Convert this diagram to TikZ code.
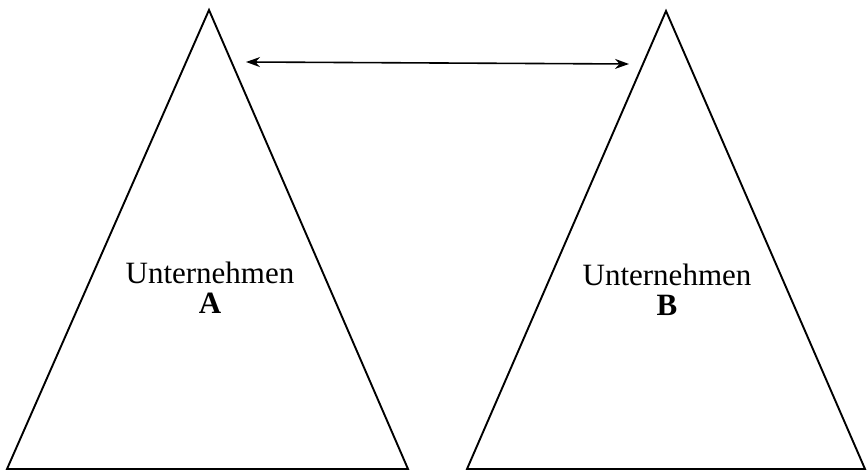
\documentclass[tikz,border=0pt]{standalone}
\usepackage{fontspec}
\setmainfont{Liberation Serif}
\usetikzlibrary{arrows.meta}
\begin{document}
\begin{tikzpicture}[x=1pt,y=1pt,
  tri/.style={draw=black,line width=1.9pt,line join=miter},
  lbl/.style={font=\fontsize{31}{30}\selectfont,align=center,inner sep=0pt},
  link/.style={line width=1.6pt,{Stealth[length=14pt,width=10pt]}-{Stealth[length=14pt,width=10pt]}}]
\useasboundingbox (0,0) rectangle (867,473);
\coordinate (a1) at (209,463);
\coordinate (a2) at (7,4);
\coordinate (a3) at (408,4);
\coordinate (b1) at (666,462);
\coordinate (b2) at (467,4);
\coordinate (b3) at (865,4);
\draw[tri] (a1) -- (a2) -- (a3) -- cycle;
\draw[tri] (b1) -- (b2) -- (b3) -- cycle;
\coordinate (la) at (246,411);
\coordinate (lb) at (629,409);
\draw[link] (la) -- (lb);
\node[lbl] (ta) at (210,185) {Unternehmen\\\textbf{A}};
\node[lbl] (tb) at (667,183) {Unternehmen\\\textbf{B}};
\end{tikzpicture}
\end{document}
